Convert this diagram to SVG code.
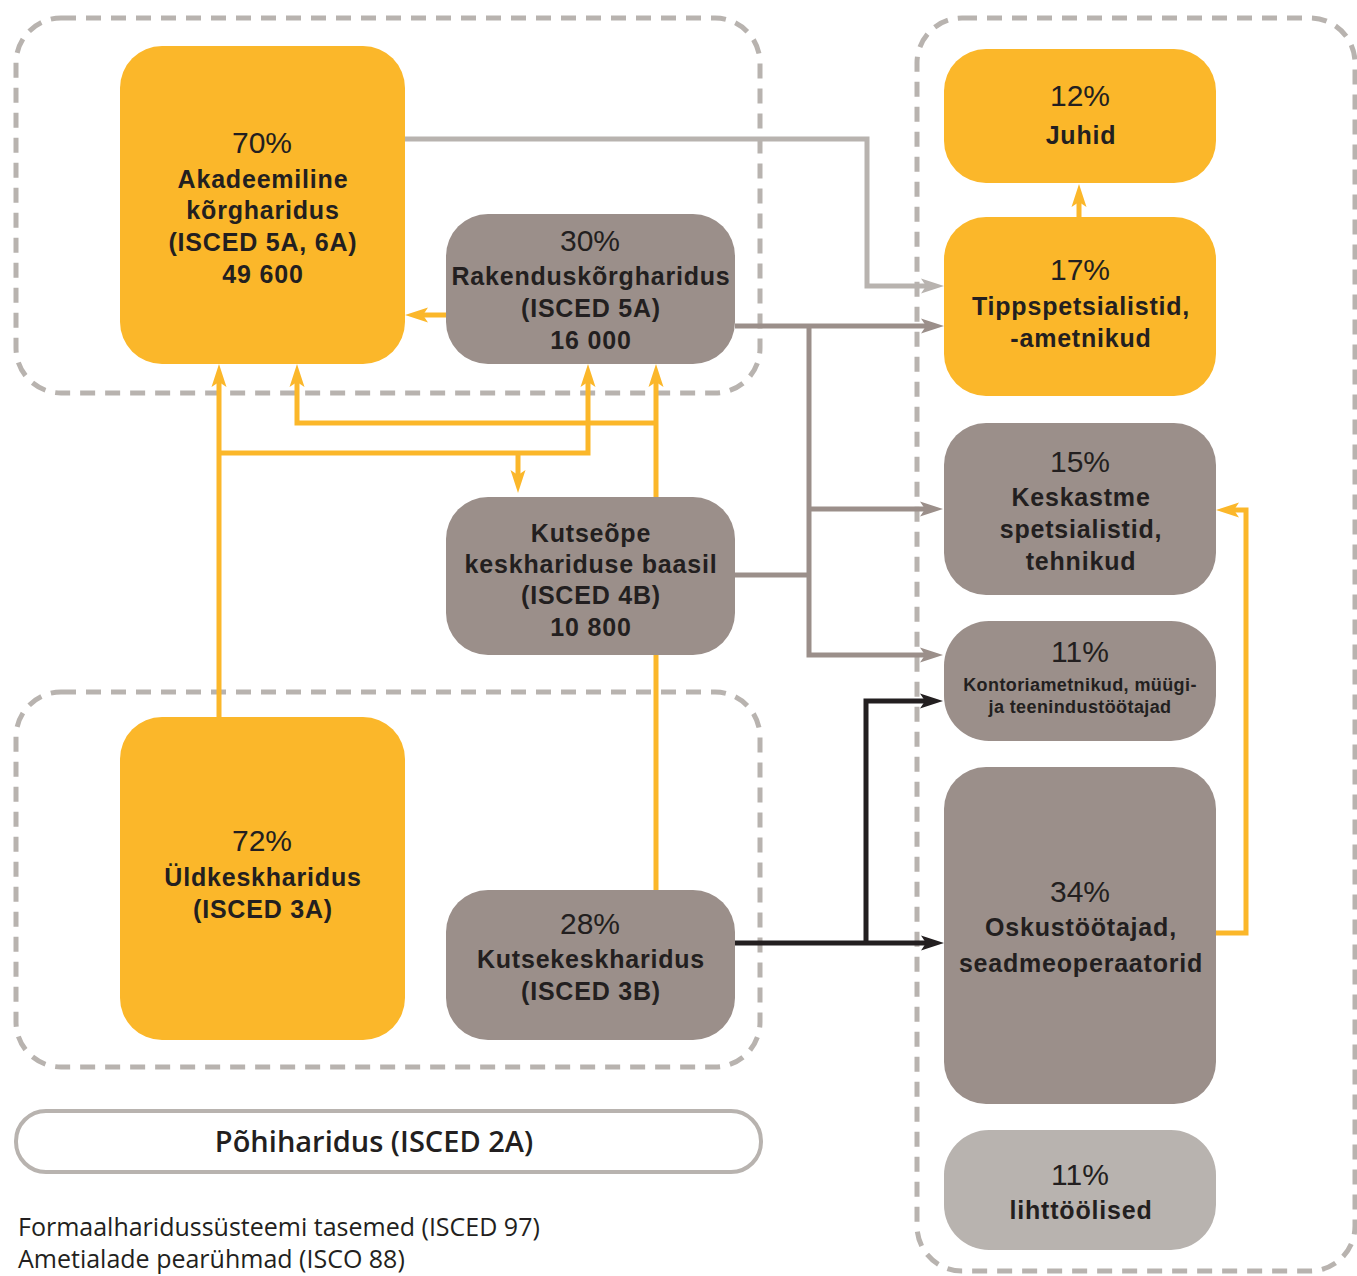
<svg xmlns="http://www.w3.org/2000/svg" width="1357" height="1276" viewBox="0 0 1357 1276">
<style>
.bg{fill:#ffffff}
.grp{fill:none;stroke:#b8b3af;stroke-width:5;stroke-dasharray:15 10}
.y{fill:#fbb72a}
.g{fill:#9b8f8a}
.lg{fill:#b8b3af}
.c{fill:none;stroke-width:5}
.cy{stroke:#fbb72a}
.cg{stroke:#9b8f8a}
.clg{stroke:#b8b3af}
.ck{stroke:#231f20}
text{font-family:"Liberation Sans",Arial,sans-serif;fill:#231f20;text-anchor:middle}
.p{font-size:30px;font-weight:400}
.b{font-size:25px;font-weight:700;letter-spacing:0.8px}
.s{font-size:18px;font-weight:700;letter-spacing:0.4px}
.os{font-family:"Open Sans","Noto Sans",sans-serif}
</style>
<defs>
<marker id="ay" markerUnits="userSpaceOnUse" markerWidth="24" markerHeight="18" viewBox="0 -9 24 18" refX="6" refY="0" orient="auto"><path d="M0,-7.5 L23,0 L0,7.5 L5,0 Z" fill="#fbb72a"/></marker>
<marker id="ag" markerUnits="userSpaceOnUse" markerWidth="24" markerHeight="18" viewBox="0 -9 24 18" refX="6" refY="0" orient="auto"><path d="M0,-7.5 L23,0 L0,7.5 L5,0 Z" fill="#9b8f8a"/></marker>
<marker id="alg" markerUnits="userSpaceOnUse" markerWidth="24" markerHeight="18" viewBox="0 -9 24 18" refX="6" refY="0" orient="auto"><path d="M0,-7.5 L23,0 L0,7.5 L5,0 Z" fill="#b8b3af"/></marker>
<marker id="ak" markerUnits="userSpaceOnUse" markerWidth="24" markerHeight="18" viewBox="0 -9 24 18" refX="6" refY="0" orient="auto"><path d="M0,-7.5 L23,0 L0,7.5 L5,0 Z" fill="#231f20"/></marker>
</defs>
<rect class="bg" x="0" y="0" width="1357" height="1276"/>
<g id="groups">
<rect class="grp" x="16" y="18" width="744" height="375" rx="45"/>
<rect class="grp" x="16" y="692" width="744" height="375" rx="45"/>
<rect class="grp" x="917" y="18" width="438" height="1253" rx="45"/>
</g>
<g id="connectors">
<path class="c cy" d="M446,315 H422" marker-end="url(#ay)"/>
<path class="c cy" d="M219,717 V381" marker-end="url(#ay)"/>
<path class="c cy" d="M219,453 H588 V381" marker-end="url(#ay)"/>
<path class="c cy" d="M518,453 V476" marker-end="url(#ay)"/>
<path class="c cy" d="M656,423 H297 V381" marker-end="url(#ay)"/>
<path class="c cy" d="M656,890 V381" marker-end="url(#ay)"/>
<path class="c cy" d="M1216,933 H1246 V510 H1233" marker-end="url(#ay)"/>
<path class="c cy" d="M1079,217 V201" marker-end="url(#ay)"/>
<path class="c clg" d="M405,139 H867 V286 H927" marker-end="url(#alg)"/>
<path class="c cg" d="M735,326 H927" marker-end="url(#ag)"/>
<path class="c cg" d="M809,326 V655 H926" marker-end="url(#ag)"/>
<path class="c cg" d="M809,509 H926" marker-end="url(#ag)"/>
<path class="c cg" d="M735,575 H809"/>
<path class="c ck" d="M735,943 H927" marker-end="url(#ak)"/>
<path class="c ck" d="M866,943 V701 H926" marker-end="url(#ak)"/>
</g>
<g id="akadeemiline">
<rect class="y" x="120" y="46" width="285" height="318" rx="42"/>
<text class="p" x="262" y="153">70%</text>
<text class="b" x="263" y="188">Akadeemiline</text>
<text class="b" x="263" y="219">kõrgharidus</text>
<text class="b" x="263" y="251">(ISCED 5A, 6A)</text>
<text class="b" x="263" y="283">49 600</text>
</g>
<g id="rakendus">
<rect class="g" x="446" y="214" width="289" height="150" rx="42"/>
<text class="p" x="590" y="251">30%</text>
<text class="b" x="591" y="285">Rakenduskõrgharidus</text>
<text class="b" x="591" y="317">(ISCED 5A)</text>
<text class="b" x="591" y="349">16 000</text>
</g>
<g id="kutseope">
<rect class="g" x="446" y="497" width="289" height="158" rx="42"/>
<text class="b" x="591" y="542">Kutseõpe</text>
<text class="b" x="591" y="573">keskhariduse baasil</text>
<text class="b" x="591" y="604">(ISCED 4B)</text>
<text class="b" x="591" y="636">10 800</text>
</g>
<g id="uldkesk">
<rect class="y" x="120" y="717" width="285" height="323" rx="42"/>
<text class="p" x="262" y="851">72%</text>
<text class="b" x="263" y="886">Üldkeskharidus</text>
<text class="b" x="263" y="918">(ISCED 3A)</text>
</g>
<g id="kutsekesk">
<rect class="g" x="446" y="890" width="289" height="150" rx="42"/>
<text class="p" x="590" y="934">28%</text>
<text class="b" x="591" y="968">Kutsekeskharidus</text>
<text class="b" x="591" y="1000">(ISCED 3B)</text>
</g>
<g id="juhid">
<rect class="y" x="944" y="49" width="272" height="134" rx="42"/>
<text class="p" x="1080" y="106">12%</text>
<text class="b" x="1081" y="144">Juhid</text>
</g>
<g id="tipp">
<rect class="y" x="944" y="217" width="272" height="179" rx="42"/>
<text class="p" x="1080" y="280">17%</text>
<text class="b" x="1081" y="315">Tippspetsialistid,</text>
<text class="b" x="1081" y="347">-ametnikud</text>
</g>
<g id="keskastme">
<rect class="g" x="944" y="423" width="272" height="172" rx="42"/>
<text class="p" x="1080" y="472">15%</text>
<text class="b" x="1081" y="506">Keskastme</text>
<text class="b" x="1081" y="538">spetsialistid,</text>
<text class="b" x="1081" y="570">tehnikud</text>
</g>
<g id="kontori">
<rect class="g" x="944" y="621" width="272" height="120" rx="45"/>
<text class="p" x="1080" y="662">11%</text>
<text class="s" x="1080" y="691">Kontoriametnikud, müügi-</text>
<text class="s" x="1080" y="713">ja teenindustöötajad</text>
</g>
<g id="oskus">
<rect class="g" x="944" y="767" width="272" height="337" rx="42"/>
<text class="p" x="1080" y="902">34%</text>
<text class="b" x="1081" y="936">Oskustöötajad,</text>
<text class="b" x="1081" y="972">seadmeoperaatorid</text>
</g>
<g id="liht">
<rect class="lg" x="944" y="1130" width="272" height="120" rx="45"/>
<text class="p" x="1080" y="1185">11%</text>
<text class="b" x="1081" y="1219">lihttöölised</text>
</g>
<g id="pohiharidus">
<rect x="16" y="1111" width="745" height="61" rx="30" fill="#ffffff" stroke="#b8b3af" stroke-width="4"/>
<text class="os" x="374" y="1152" font-size="29" font-weight="600">Põhiharidus (ISCED 2A)</text>
</g>
<g id="legend">
<text class="os" x="18" y="1236" font-size="25" style="text-anchor:start">Formaalharidussüsteemi tasemed (ISCED 97)</text>
<text class="os" x="18" y="1268" font-size="25" style="text-anchor:start">Ametialade pearühmad (ISCO 88)</text>
</g>
</svg>
